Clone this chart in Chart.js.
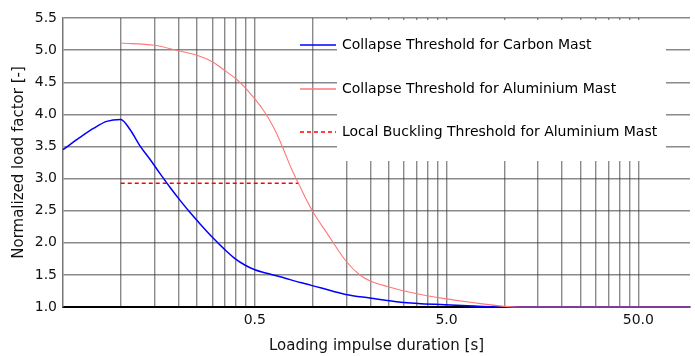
<!DOCTYPE html>
<html>
<head>
<meta charset="utf-8">
<script src="https://cdn.jsdelivr.net/npm/chart.js@4"></script>
<style>
  html, body { margin: 0; padding: 0; background: #fff; }
  canvas { display: block; }
</style>
</head>
<body>
<canvas id="thresholdChart" width="695" height="356"></canvas>
<script>
// ==================== DATA ====================
// impulse duration [s] vs normalized load factor [-]
const carbonDurations = [0.05, 0.0613, 0.072, 0.0845, 0.1, 0.112, 0.126, 0.142, 0.16, 0.181, 0.204, 0.23, 0.26, 0.304, 0.35, 0.396, 0.446, 0.5, 0.57, 0.68, 0.865, 1.1, 1.49, 1.99, 2.88, 4.9, 7, 10, 93];
const carbonFactors   = [3.45, 3.64, 3.78, 3.89, 3.92, 3.76, 3.51, 3.3, 3.08, 2.86, 2.66, 2.47, 2.29, 2.07, 1.89, 1.75, 1.65, 1.58, 1.53, 1.47, 1.38, 1.3, 1.195, 1.14, 1.075, 1.034, 1.015, 1.0, 1.0];

const aluminiumDurations = [0.1, 0.15, 0.2, 0.25, 0.3, 0.35, 0.4, 0.45, 0.5, 0.55, 0.6, 0.65, 0.7, 0.78, 0.845, 0.93, 1.01, 1.19, 1.49, 1.78, 1.99, 2.45, 3.45, 4.9, 6.95, 10, 12, 93];
const aluminiumFactors   = [5.11, 5.075, 4.99, 4.92, 4.82, 4.68, 4.55, 4.4, 4.24, 4.08, 3.9, 3.7, 3.48, 3.14, 2.925, 2.67, 2.47, 2.15, 1.72, 1.49, 1.41, 1.32, 1.21, 1.13, 1.065, 1.01, 1.0, 1.0];

const bucklingDurations = [0.1, 0.845];
const bucklingFactors   = [2.925, 2.925];

const seriesLabels = [
    'Collapse Threshold for Carbon Mast',
    'Collapse Threshold for Aluminium Mast',
    'Local Buckling Threshold for Aluminium Mast'
];

// vertical grid at 2..10 x each decade base, labels only on some
const gridDecades = [0.05, 0.5, 5];
const gridSteps = [2, 3, 4, 5, 6, 7, 8, 9, 10];
const xLabelTicks = [0.5, 5, 50];
const yTickValues = [1.0, 1.5, 2.0, 2.5, 3.0, 3.5, 4.0, 4.5, 5.0, 5.5];

// ==================== HELPERS ====================
function toPoints(xs, ys) {
    return xs.map((x, i) => ({ x: x, y: ys[i] }));
}

const gridValues = [];
gridDecades.forEach(d => gridSteps.forEach(s => gridValues.push(d * s)));

const FONT = 'DejaVu Sans';

const styles = [
    { color: '#0000ff', width: 1.5, dash: [] },
    { color: '#ff7878', width: 1.1, dash: [] },
    { color: '#ff0000', width: 1.5, dash: [4, 3] }
];

// ==================== LEGEND BOX ====================
const legendBox = {
    id: 'legendBox',
    afterDatasetsDraw(chart) {
        const ctx = chart.ctx;
        ctx.save();
        ctx.fillStyle = '#ffffff';
        ctx.fillRect(337, 20, 329, 141);

        const rows = [45, 89, 132];
        rows.forEach((y, i) => {
            const st = styles[i];
            ctx.beginPath();
            ctx.strokeStyle = st.color;
            ctx.lineWidth = Math.max(st.width, 1.4);
            ctx.setLineDash(st.dash);
            ctx.moveTo(300, y);
            ctx.lineTo(336, y);
            ctx.stroke();
            ctx.setLineDash([]);
            ctx.fillStyle = '#000';
            ctx.font = '14px "' + FONT + '"';
            ctx.textBaseline = 'middle';
            ctx.textAlign = 'left';
            ctx.fillText(seriesLabels[i], 342, y);
        });
        ctx.restore();
    }
};

// ==================== CHART ====================
const datasets = [
    { data: toPoints(aluminiumDurations, aluminiumFactors), style: styles[1] },
    { data: toPoints(carbonDurations, carbonFactors), style: styles[0] },
    { data: toPoints(bucklingDurations, bucklingFactors), style: styles[2] }
].map(d => ({
    data: d.data,
    borderColor: d.style.color,
    borderWidth: d.style.width,
    borderDash: d.style.dash,
    pointRadius: 0,
    cubicInterpolationMode: 'monotone',
    fill: false,
    clip: 4
}));

const ctx = document.getElementById('thresholdChart').getContext('2d');
new Chart(ctx, {
    type: 'line',
    data: { datasets: datasets },
    options: {
        responsive: false,
        animation: false,
        devicePixelRatio: 1,
        layout: { padding: { top: 18, right: 5, left: 0, bottom: 0 } },
        plugins: {
            legend: { display: false },
            tooltip: { enabled: false }
        },
        scales: {
            x: {
                type: 'logarithmic',
                min: 0.05,
                max: 93,
                afterBuildTicks: scale => {
                    scale.ticks = gridValues.map(v => ({ value: v }));
                },
                afterFit: scale => { scale.height = 49; },
                ticks: {
                    autoSkip: false,
                    maxRotation: 0,
                    padding: 5,
                    color: '#111',
                    font: { family: FONT, size: 14 },
                    callback: value => {
                        const hit = xLabelTicks.find(t => Math.abs(t - value) < 1e-9);
                        return hit !== undefined ? hit.toFixed(1) : '';
                    }
                },
                grid: { color: 'rgba(60,60,60,0.6)', lineWidth: 1.4, drawTicks: false },
                border: { color: '#000', width: 2 },
                title: {
                    display: true,
                    text: 'Loading impulse duration [s]',
                    color: '#111',
                    font: { family: FONT, size: 15 },
                    padding: { top: 0, bottom: 1 }
                }
            },
            y: {
                min: 1,
                max: 5.5,
                afterBuildTicks: scale => {
                    scale.ticks = yTickValues.map(v => ({ value: v }));
                },
                afterFit: scale => { scale.width = 63; },
                ticks: {
                    padding: 6,
                    color: '#111',
                    font: { family: FONT, size: 14 },
                    callback: value => value.toFixed(1)
                },
                grid: { color: 'rgba(60,60,60,0.6)', lineWidth: 1.4, drawTicks: false },
                border: { color: '#777', width: 1.5 },
                title: {
                    display: true,
                    text: 'Normalized load factor [-]',
                    color: '#111',
                    font: { family: FONT, size: 15 },
                    padding: { top: 10, bottom: 0 }
                }
            }
        }
    },
    plugins: [legendBox]
});
</script>
</body>
</html>
